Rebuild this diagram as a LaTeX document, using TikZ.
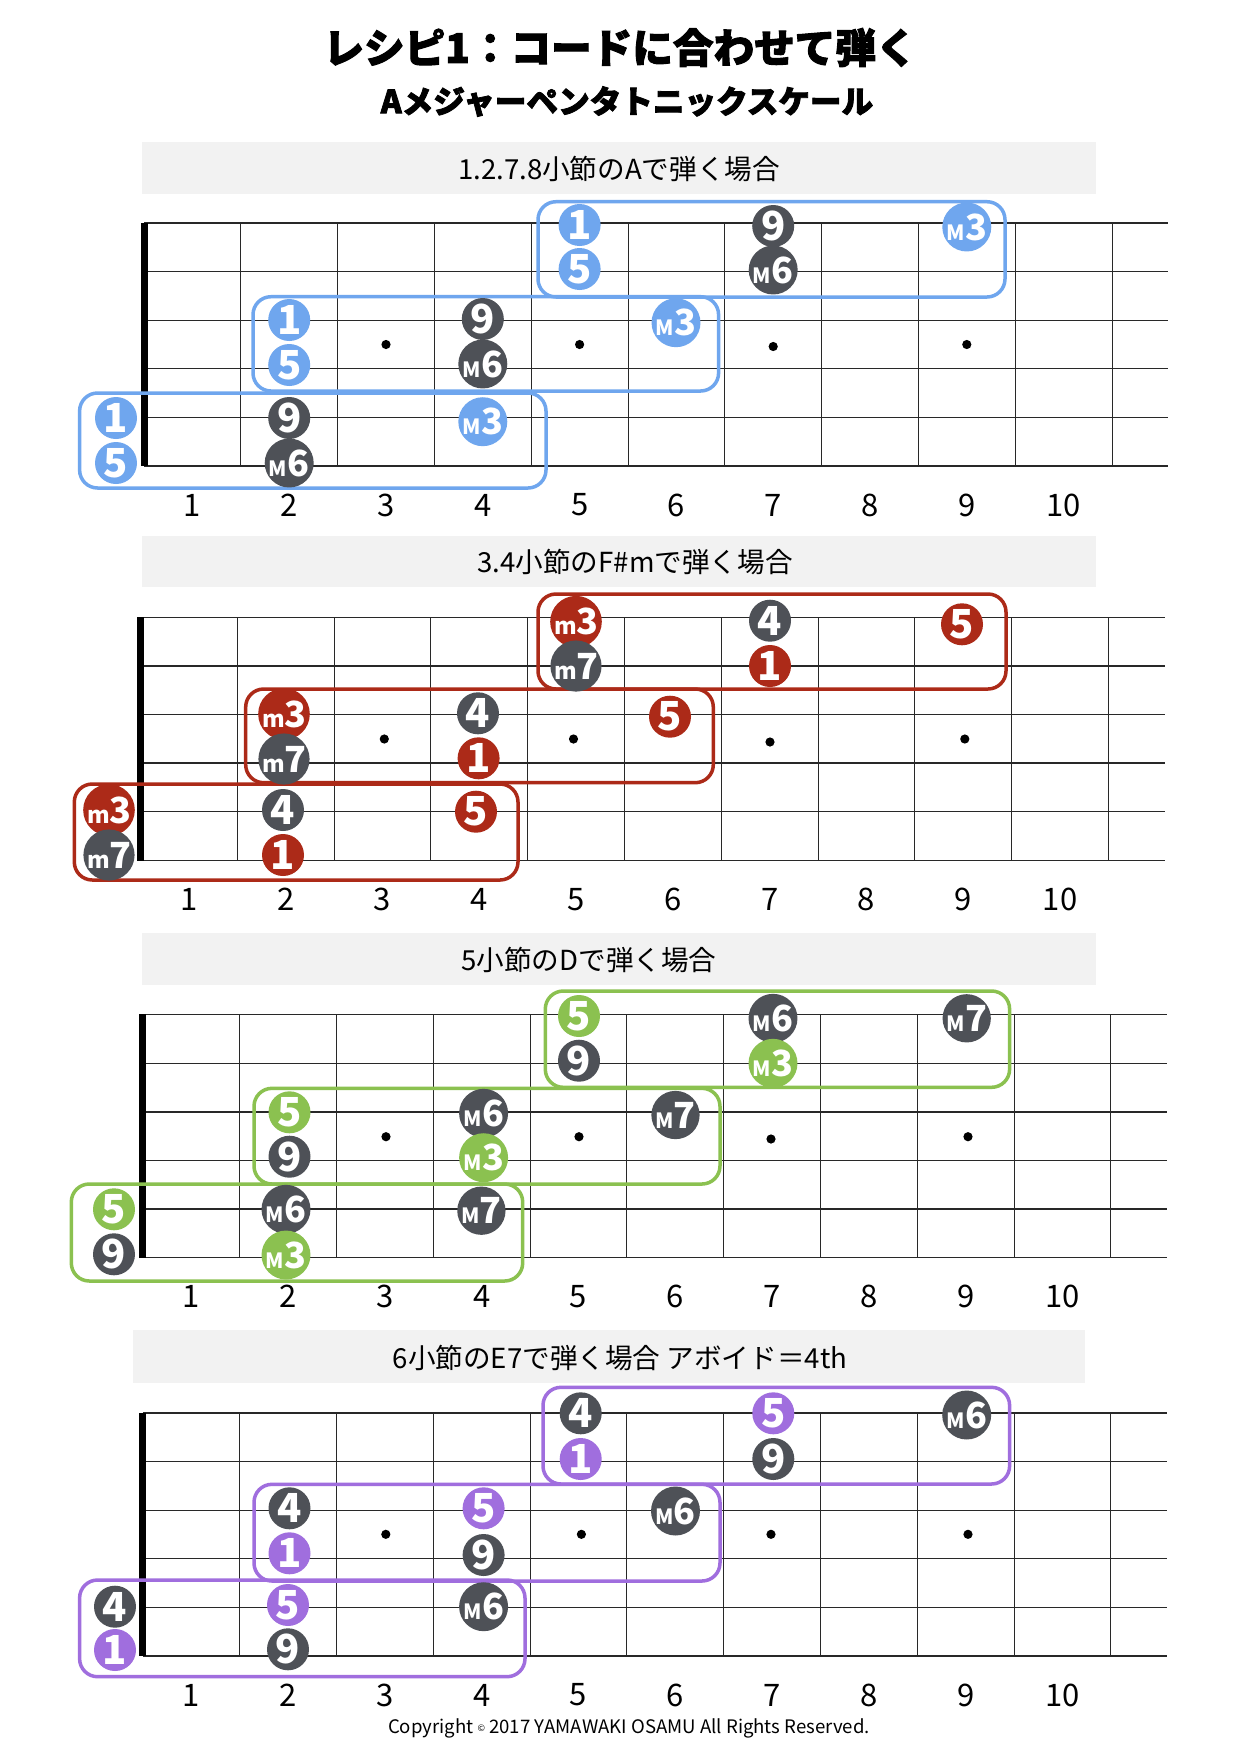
\documentclass[tikz,border=0pt]{standalone}
\usepackage{fontspec}
\newfontfamily\jp{Noto Sans CJK JP}
\newfontfamily\jpheavy[BoldFeatures={FakeBold=2.5}]{Noto Sans CJK JP}
\definecolor{blueC}{RGB}{111,166,238}
\definecolor{grayC}{RGB}{78,81,87}
\definecolor{redC}{RGB}{172,42,24}
\definecolor{greenC}{RGB}{139,193,80}
\definecolor{purpleC}{RGB}{160,110,222}
\definecolor{barC}{RGB}{242,242,242}
\definecolor{lineC}{RGB}{40,40,40}
\newcommand\Dg[1]{\fontsize{20pt}{20pt}\selectfont #1}
\newcommand\Mj[1]{{\fontsize{10.5pt}{10.5pt}\selectfont M}\kern0.2pt{\fontsize{18pt}{18pt}\selectfont #1}}
\newcommand\Mn[1]{{\fontsize{11.5pt}{11.5pt}\selectfont m}\kern-0.3pt{\fontsize{18pt}{18pt}\selectfont #1}}
\newcommand\fretboard[3]{%
  \foreach \k in {0,...,5} \draw[stringl] (#1, #2+48.6*\k) -- (#1+1024, #2+48.6*\k);
  \foreach \f in {1,...,10} \draw[fretl] (#1+96.8*\f, #2) -- (#1+96.8*\f, #2+243);
  \draw[nutl] (#1,#2-0.3) -- (#1,#2+243.3);
  \foreach \n in {1,...,10} \node[fretnum] (#3f\n) at (#1+96.8*\n-48.4, #2+243+39) {\n};
}
\tikzset{
  notec/.style={circle, inner sep=0pt, minimum size=21pt, text=white, font=\jp\bfseries},
  fretnum/.style={font=\jp\fontsize{15.5pt}{15.5pt}\selectfont, text=black, inner sep=0pt},
  heading/.style={font=\jp\fontsize{13.8pt}{13.8pt}\selectfont, text=black, inner sep=0pt},
  barbox/.style={fill=barC, draw=none},
  posbox/.style={line width=1.75pt, rounded corners=9pt},
  stringl/.style={line width=0.65pt, draw=lineC},
  fretl/.style={line width=0.5pt, draw=lineC},
  nutl/.style={line width=3.5pt, draw=black},
}
\begin{document}
\begin{tikzpicture}[x=0.5pt,y=-0.5pt]
\fill[white] (0,0) rectangle (1240,1753);
\useasboundingbox (0,0) rectangle (1240,1753);

% titles
\node[font=\jpheavy\bfseries\fontsize{20.3pt}{20.3pt}\selectfont, inner sep=0pt] (title) at (620,47.5) {レシピ1：コードに合わせて弾く};
\node[font=\jpheavy\bfseries\fontsize{15.8pt}{15.8pt}\selectfont, inner sep=0pt] (subtitle) at (627,101.5) {Aメジャーペンタトニックスケール};

% heading bars
\fill[barbox] (142,142) rectangle (1096,194);
\fill[barbox] (142,536) rectangle (1096,587);
\fill[barbox] (142,933) rectangle (1096,985);
\fill[barbox] (133,1330) rectangle (1085,1383);
\node[heading] (h1) at (619,169) {1.2.7.8小節のAで弾く場合};
\node[heading] (h2) at (635,562) {3.4小節のF\#mで弾く場合};
\node[heading] (h3) at (589,960) {5小節のDで弾く場合};
\node[heading] (h4) at (620,1358) {6小節のE7で弾く場合 アボイド＝4th};

% fretboards
\fretboard{144}{223}{a}
\fretboard{140.5}{617.3}{b}
\fretboard{142.8}{1014.7}{c}
\fretboard{142.8}{1413}{d}

% position marks
\foreach \px/\py in {386/344.5, 579.6/344.5, 773.2/346.5, 966.8/344.5,
  384.3/739, 573.5/739, 770/742, 964.8/739,
  386/1136.7, 579/1136.7, 771/1139, 968/1136.7,
  385.8/1534.3, 581.4/1534.3, 771/1534.3, 968/1534.3}
  \fill[black] (\px,\py) circle (2.3pt);

% position boxes
\draw[posbox, draw=blueC] (538,201.7) rectangle (1005,297);
\draw[posbox, draw=blueC] (253,296.7) rectangle (718.6,391);
\draw[posbox, draw=blueC] (79.6,393) rectangle (546,488);
\draw[posbox, draw=redC] (538,594) rectangle (1006,689);
\draw[posbox, draw=redC] (245.7,689) rectangle (713.3,782.7);
\draw[posbox, draw=redC] (74.3,784) rectangle (518,880);
\draw[posbox, draw=greenC] (545.3,991) rectangle (1009.6,1087.3);
\draw[posbox, draw=greenC] (254,1088.3) rectangle (720,1184);
\draw[posbox, draw=greenC] (71.3,1184) rectangle (522.7,1281);
\draw[posbox, draw=purpleC] (543,1387.3) rectangle (1009.6,1484);
\draw[posbox, draw=purpleC] (254,1484.3) rectangle (720,1581);
\draw[posbox, draw=purpleC] (79.6,1580) rectangle (525,1676.7);

% notes diagram 1
\foreach \px/\py/\c/\t [count=\i] in {
  579.6/225/blueC/\Dg{1}, 579.6/269/blueC/\Dg{5}, 773.2/226/grayC/\Dg{9},
  773.2/270/grayC/\Mj{6}, 966.8/227/blueC/\Mj{3},
  289.2/320/blueC/\Dg{1}, 289.2/365/blueC/\Dg{5}, 482.8/319/grayC/\Dg{9},
  482.8/364/grayC/\Mj{6}, 676/322.7/blueC/\Mj{3},
  116/418/blueC/\Dg{1}, 116/463/blueC/\Dg{5}, 289.2/418/grayC/\Dg{9},
  289.2/463/grayC/\Mj{6}, 482.8/421.7/blueC/\Mj{3}}
  \node[notec, fill=\c] (a\i) at (\px,\py) {\t};

% notes diagram 2
\foreach \px/\py/\c/\t [count=\i] in {
  576/621.7/redC/\Mn{3}, 576/666/grayC/\Mn{7}, 770/620.7/grayC/\Dg{4},
  770/666/redC/\Dg{1}, 962/624.3/redC/\Dg{5},
  284/714/redC/\Mn{3}, 284/759/grayC/\Mn{7}, 478/713.3/grayC/\Dg{4},
  478.6/758.3/redC/\Dg{1}, 670/716.7/redC/\Dg{5},
  109/810/redC/\Mn{3}, 109/855/grayC/\Mn{7}, 283/810/grayC/\Dg{4},
  283/855/redC/\Dg{1}, 476/811.7/redC/\Dg{5}}
  \node[notec, fill=\c] (b\i) at (\px,\py) {\t};

% notes diagram 3
\foreach \px/\py/\c/\t [count=\i] in {
  579/1016/greenC/\Dg{5}, 579/1060.7/grayC/\Dg{9}, 773/1018.3/grayC/\Mj{6},
  773/1063.3/greenC/\Mj{3}, 966.7/1018.3/grayC/\Mj{7},
  289.5/1112.3/greenC/\Dg{5}, 289.5/1156.7/grayC/\Dg{9}, 483.6/1113.3/grayC/\Mj{6},
  483.6/1157.7/greenC/\Mj{3}, 675.5/1115/grayC/\Mj{7},
  114/1209.3/greenC/\Dg{5}, 114/1254.3/grayC/\Dg{9}, 286/1209.3/grayC/\Mj{6},
  286/1255/greenC/\Mj{3}, 481.4/1210.7/grayC/\Mj{7}}
  \node[notec, fill=\c] (c\i) at (\px,\py) {\t};

% notes diagram 4
\foreach \px/\py/\c/\t [count=\i] in {
  580.7/1413.3/grayC/\Dg{4}, 580.7/1459/purpleC/\Dg{1}, 773.3/1413.3/purpleC/\Dg{5},
  773.3/1459/grayC/\Dg{9}, 966.7/1415/grayC/\Mj{6},
  289.5/1508.3/grayC/\Dg{4}, 289.5/1553.3/purpleC/\Dg{1}, 483.6/1508.3/purpleC/\Dg{5},
  483.6/1555/grayC/\Dg{9}, 675.5/1511/grayC/\Mj{6},
  115/1606.7/grayC/\Dg{4}, 115/1650/purpleC/\Dg{1}, 288/1605/purpleC/\Dg{5},
  288/1649.3/grayC/\Dg{9}, 483.6/1606.7/grayC/\Mj{6}}
  \node[notec, fill=\c] (d\i) at (\px,\py) {\t};

% footer
\node[font=\jp\fontsize{9.3pt}{9.3pt}\selectfont, inner sep=0pt] (copy) at (629,1728)
  {Copyright {\fontsize{4.5pt}{4.5pt}\selectfont\raisebox{1pt}{©}} 2017 YAMAWAKI OSAMU All Rights Reserved.};
\end{tikzpicture}
\end{document}
